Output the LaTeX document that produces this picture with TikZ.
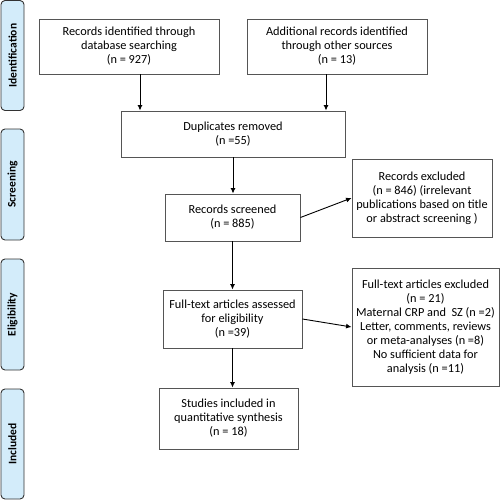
\documentclass[tikz,border=0pt]{standalone}
\usepackage{fontspec}
\setmainfont{Carlito}
\usetikzlibrary{arrows.meta}
\definecolor{sidefill}{HTML}{D3ECFA}
\definecolor{boxline}{HTML}{555555}
\begin{document}
\begin{tikzpicture}[x=1pt,y=-1pt,
  box/.style={draw=boxline, line width=0.9pt, fill=white, align=center, inner sep=2pt,
    font=\fontsize{12.3}{14}\selectfont},
  side/.style={draw=black!80, line width=0.9pt, fill=sidefill, rounded corners=4pt, rotate=90,
    minimum height=23pt, inner sep=0pt, font=\fontsize{11.5}{12}\selectfont\bfseries},
  arr/.style={line width=0.9pt, -{Latex[length=5.5pt,width=5pt]}}]
\useasboundingbox (0,0) rectangle (500,500);
\node[side, minimum width=110pt] (sid) at (12.5,55.5) {Identification};
\node[side, minimum width=111pt] (sscr) at (12.5,184.5) {Screening};
\node[side, minimum width=111pt] (sel) at (12.5,314.5) {Eligibility};
\node[side, minimum width=110pt] (sinc) at (12.5,444) {Included};

\node[box, minimum width=180pt, minimum height=55pt] (id1) at (129,46.5) {Records identified through\\database searching\\(n = 927)};
\node[box, minimum width=180pt, minimum height=55pt] (id2) at (337,46.5) {Additional records identified\\through other sources\\(n = 13)};
\node[box, minimum width=224pt, minimum height=46pt] (dup) at (233,134) {Duplicates removed\\(n =55)};
\node[box, minimum width=135pt, minimum height=47pt] (scr) at (232.5,217.5) {Records screened\\(n = 885)};
\node[box, minimum width=140pt, minimum height=78pt] (excl) at (422,198) {Records excluded\\(n = 846) (irrelevant\\publications based on title\\or abstract screening )};
\node[box, minimum width=139pt, minimum height=58pt] (ft) at (232.5,319) {Full-text articles assessed\\for eligibility\\(n =39)};
\node[box, minimum width=147pt, minimum height=118pt] (ftex) at (425.5,327) {Full-text articles excluded\\(n = 21)\\Maternal CRP and\ \ SZ (n =2)\\Letter, comments, reviews\\or meta-analyses (n =8)\\No sufficient data for\\analysis (n =11)};
\node[box, minimum width=139pt, minimum height=61pt] (inc) at (228.5,418.5) {Studies included in\\quantitative synthesis\\(n = 18)};

\draw[arr] ([xshift=11pt]id1.south) -- ([xshift=11pt]id1.south |- dup.north);
\draw[arr] ([xshift=-11pt]id2.south) -- ([xshift=-11pt]id2.south |- dup.north);
\draw[arr] (dup.south) -- (dup.south |- scr.north);
\draw[arr] (scr.east) -- (excl.west);
\draw[arr] (scr.south) -- (scr.south |- ft.north);
\draw[arr] (ft.east) -- (ftex.west);
\draw[arr] (ft.south) -- (ft.south |- inc.north);
\end{tikzpicture}
\end{document}
